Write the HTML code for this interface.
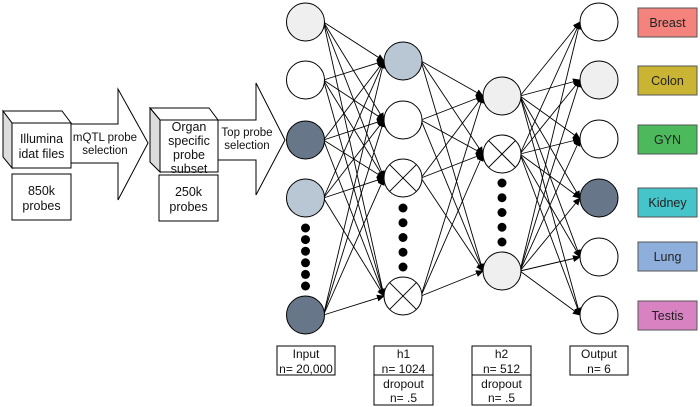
<!DOCTYPE html>
<html><head><meta charset="utf-8"><style>
body{margin:0;background:#fff;}
svg{display:block;font-family:"Liberation Sans",Arial,sans-serif;}
</style></head><body>
<svg id="s" width="700" height="407" viewBox="0 0 700 407" xmlns="http://www.w3.org/2000/svg">
<defs><marker id="a" markerWidth="8" markerHeight="8" refX="7" refY="4" orient="auto" markerUnits="userSpaceOnUse"><path d="M0,0.5 L8,4 L0,7.5 Z" fill="#000"/></marker></defs>
<g stroke="#000" stroke-width="1" fill="#fff">
<polygon points="3,111 62,111 71,123 12,123" fill="#fff"/>
<polygon points="3,111 12,123 12,168 3,157" fill="#ddd"/>
<rect x="12" y="123" width="59" height="45"/>
<polygon points="71,124 118,124 118,89 148,143 118,200 118,163 71,163"/>
<rect x="12" y="174" width="59" height="46"/>
<polygon points="150,108 209,108 218,120 160,120"/>
<polygon points="150,108 160,120 160,172 150,162" fill="#ddd"/>
<rect x="160" y="120" width="58" height="52"/>
<polygon points="218,120 256,120 256,83 285,140 256,195 256,160 218,160"/>
<rect x="159" y="175" width="59" height="46"/>
</g>
<g font-size="12.5" text-anchor="middle" fill="#111">
<text x="41.5" y="143">Illumina</text><text x="41.5" y="158">idat files</text>
<text x="41.5" y="195">850k</text><text x="41.5" y="210">probes</text>
<text x="105" y="141" font-size="11.5">mQTL probe</text><text x="105" y="154" font-size="11.5">selection</text>
<text x="189" y="131">Organ</text><text x="189" y="145">specific</text><text x="189" y="159">probe</text><text x="189" y="173">subset</text>
<text x="188.5" y="196">250k</text><text x="188.5" y="211">probes</text>
<text x="247" y="136" font-size="11.5">Top probe</text><text x="247" y="149" font-size="11.5">selection</text>
</g>
<g id="edges" stroke="#000" stroke-width="0.9"></g>
<g id="nodes" stroke="#000" stroke-width="1"></g>
<g stroke="#000" stroke-width="1" fill="#fff">
<rect x="277" y="346" width="58" height="29"/>
<rect x="374" y="346" width="59" height="29"/><rect x="374" y="375" width="59" height="30"/>
<rect x="472" y="346" width="59" height="29"/><rect x="472" y="375" width="59" height="30"/>
<rect x="570" y="346" width="58" height="29"/>
</g>
<g font-size="12" text-anchor="middle" fill="#111">
<text x="306" y="358">Input</text><text x="306" y="373">n= 20,000</text>
<text x="403.5" y="358">h1</text><text x="403.5" y="373">n= 1024</text>
<text x="403.5" y="388">dropout</text><text x="403.5" y="402">n= .5</text>
<text x="501.5" y="358">h2</text><text x="501.5" y="373">n= 512</text>
<text x="501.5" y="388">dropout</text><text x="501.5" y="402">n= .5</text>
<text x="599" y="358">Output</text><text x="599" y="373">n= 6</text>
</g>
<g stroke="#555" stroke-width="1">
<rect x="638" y="8" width="59" height="29" fill="#f4837d"/>
<rect x="638" y="66" width="59" height="29" fill="#c9b433"/>
<rect x="638" y="125" width="59" height="29" fill="#4cb95c"/>
<rect x="638" y="188" width="59" height="29" fill="#45c4c9"/>
<rect x="638" y="242" width="59" height="29" fill="#8eaedb"/>
<rect x="638" y="301" width="59" height="29" fill="#d982c2"/>
</g>
<g font-size="12.5" text-anchor="middle" fill="#222">
<text x="667.5" y="27">Breast</text><text x="667.5" y="85">Colon</text><text x="667.5" y="144">GYN</text>
<text x="667.5" y="207">Kidney</text><text x="667.5" y="261">Lung</text><text x="667.5" y="320">Testis</text>
</g>
</svg>
<script>
var NS="http://www.w3.org/2000/svg",r=19;
var L=[
 {x:305.5,n:[[22,"#efefef"],[80,"#fff"],[140,"#677789"],[198,"#b9c6d3"],[315,"#677789"]]},
 {x:403,n:[[61,"#b9c6d3"],[120,"#fff"],[178,"x"],[296,"x"]]},
 {x:502,n:[[96,"#efefef"],[154,"x"],[271,"#efefef"]]},
 {x:599,n:[[22,"#fff"],[80,"#efefef"],[139,"#fff"],[198,"#677789"],[257,"#fff"],[315,"#fff"]]}
];
var E=document.getElementById("edges"),N=document.getElementById("nodes");
function el(t,a,p){var e=document.createElementNS(NS,t);for(var k in a)e.setAttribute(k,a[k]);p.appendChild(e);return e;}
for(var i=0;i<3;i++){var A=L[i],B=L[i+1];
 A.n.forEach(function(s){B.n.forEach(function(t){
  el("line",{x1:A.x+r-1,y1:s[0],x2:B.x-r,y2:t[0],"marker-end":"url(#a)"},E);});});}
L.forEach(function(l){l.n.forEach(function(n){
 var f=n[1]=="x"?"#fff":n[1];
 el("circle",{cx:l.x,cy:n[0],r:r,fill:f},N);
 if(n[1]=="x"){var d=r*0.707;
  el("line",{x1:l.x-d,y1:n[0]-d,x2:l.x+d,y2:n[0]+d},N);
  el("line",{x1:l.x-d,y1:n[0]+d,x2:l.x+d,y2:n[0]-d},N);}
});});
function dots(x,y0,y1,k){for(var j=0;j<k;j++)el("circle",{cx:x,cy:y0+(y1-y0)*j/(k-1),r:4.5,fill:"#000",stroke:"none"},N);}
dots(305.5,228,286,6);dots(403,208,267,5);dots(502,183,242,5);
</script>
</body></html>
